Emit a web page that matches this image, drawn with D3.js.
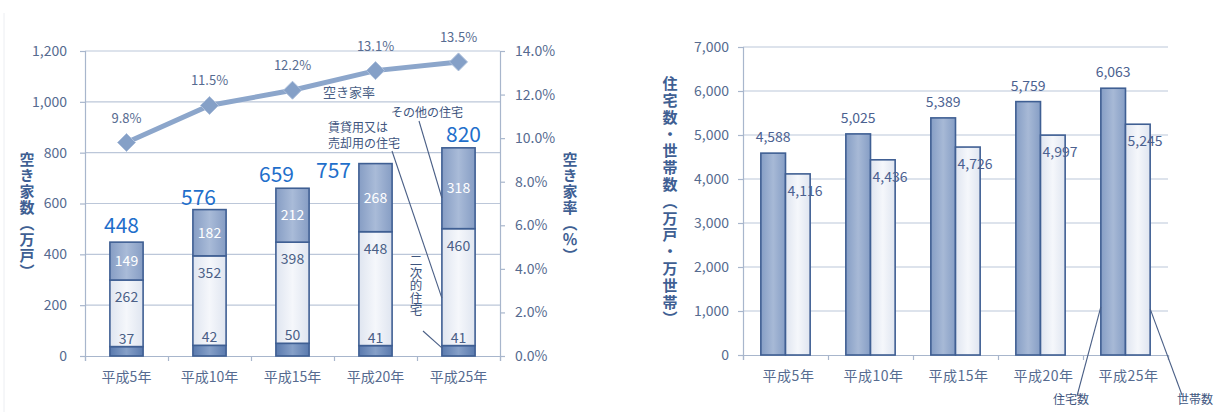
<!DOCTYPE html>
<html>
<head>
<meta charset="utf-8">
<script src="https://cdn.jsdelivr.net/npm/d3@7"></script>
<style>
  body { margin: 0; background: #fff; }
  text { font-family: "Noto Sans CJK JP", "Noto Sans", sans-serif; }
  .vt { writing-mode: vertical-rl; }
</style>
</head>
<body>
<svg id="chart" width="1221" height="412"></svg>
<script>
// data
var years = ["平成5年", "平成10年", "平成15年", "平成20年", "平成25年"];
var secondHomes = [37, 42, 50, 41, 41];        // 二次的住宅
var rentalSale = [262, 352, 398, 448, 460];    // 賃貸用又は売却用の住宅
var otherHomes = [149, 182, 212, 268, 318];    // その他の住宅
var totalVacant = [448, 576, 659, 757, 820];
var vacancyRate = [9.8, 11.5, 12.2, 13.1, 13.5];
var leftTicks = [0, 200, 400, 600, 800, 1000, 1200];
var rateTicks = [0, 2, 4, 6, 8, 10, 12, 14];

var houses = [4588, 5025, 5389, 5759, 6063];     // 住宅数
var households = [4116, 4436, 4726, 4997, 5245]; // 世帯数
var rightTicks = [0, 1000, 2000, 3000, 4000, 5000, 6000, 7000];

// label nudges for the totals (layout only)
var totalDx = [-5, -11, -16, -42, 5];
var totalDy = [-9, -5, -7, 14, -6];

var svg = d3.select("#chart");
var axisCol = "#a8b6cc", gridCol = "#bcc7d9", textCol = "#566b90", edgeCol = "#3f5f93";

// gradients
var defs = svg.append("defs");
function grad(id, edge, mid) {
  var g = defs.append("linearGradient").attr("id", id).attr("x1", "0").attr("x2", "1").attr("y1", "0").attr("y2", "0");
  g.append("stop").attr("offset", "0").attr("stop-color", edge);
  g.append("stop").attr("offset", "0.5").attr("stop-color", mid);
  g.append("stop").attr("offset", "1").attr("stop-color", edge);
}
grad("gDark", "#5a7aae", "#86a0c8");
grad("gMid", "#869dc4", "#a9bbd8");
grad("gLight", "#dfe5f0", "#f5f7fb");
grad("gHouse", "#869ec5", "#a7b9d6");

// faint panel edge
svg.append("line").attr("x1", 4).attr("x2", 4).attr("y1", 13).attr("y2", 412)
  .attr("stroke", "#eceef2").attr("stroke-width", 1);

// ---------- left chart ----------
var L = {left: 85, right: 500, top: 51, bottom: 356};
var lx = d3.scaleBand().domain(years).range([L.left, L.right]).paddingInner(0.6).paddingOuter(0.3);
var ly = d3.scaleLinear().domain([0, 1200]).range([L.bottom, L.top]);
var ry = d3.scaleLinear().domain([0, 14]).range([L.bottom, L.top]);
var lb = d3.scaleLinear().domain([0, years.length]).range([L.left, L.right]);

var gl = svg.append("g");

gl.selectAll(".lgrid").data(leftTicks.filter(function(d) { return d > 0; }))
  .enter().append("line")
  .attr("x1", L.left).attr("x2", L.right)
  .attr("y1", function(d) { return ly(d); }).attr("y2", function(d) { return ly(d); })
  .attr("stroke", gridCol).attr("stroke-width", 1.2);

var yAxisL = gl.append("g").attr("transform", "translate(" + L.left + ",0)")
  .call(d3.axisLeft(ly).tickValues(leftTicks).tickFormat(d3.format(",")).tickSize(5).tickPadding(13));
var yAxisR = gl.append("g").attr("transform", "translate(" + L.right + ",0)")
  .call(d3.axisRight(ry).tickValues(rateTicks).tickFormat(function(d) { return d.toFixed(1) + "%"; }).tickSize(5).tickPadding(10));
var xAxisL = gl.append("g").attr("transform", "translate(0," + L.bottom + ")")
  .call(d3.axisBottom(lb).ticks(years.length).tickFormat("").tickSize(5));

[yAxisL, yAxisR, xAxisL].forEach(function(a) {
  a.selectAll("path, line").attr("stroke", axisCol).attr("stroke-width", 1.2);
  a.selectAll("text").attr("fill", textCol).attr("font-size", 14);
});

gl.selectAll(".xlab").data(years).enter().append("text")
  .attr("x", function(d) { return lx(d) + lx.bandwidth() / 2; })
  .attr("y", 382).attr("text-anchor", "middle")
  .attr("fill", textCol).attr("font-size", 14).text(function(d) { return d; });

// stacked bars
var stackRows = years.map(function(y, i) {
  return {year: y, second: secondHomes[i], rental: rentalSale[i], other: otherHomes[i]};
});
var stacked = d3.stack().keys(["second", "rental", "other"])(stackRows);
var fills = {second: "url(#gDark)", rental: "url(#gLight)", other: "url(#gMid)"};

stacked.forEach(function(layer) {
  gl.selectAll(".seg-" + layer.key).data(layer).enter().append("rect")
    .attr("x", function(d) { return lx(d.data.year); })
    .attr("width", lx.bandwidth())
    .attr("y", function(d) { return ly(d[1]); })
    .attr("height", function(d) { return ly(d[0]) - ly(d[1]); })
    .attr("fill", fills[layer.key])
    .attr("stroke", edgeCol).attr("stroke-width", 1.6);
});

// segment labels
stacked.forEach(function(layer) {
  gl.selectAll(".lab-" + layer.key).data(layer).enter().append("text")
    .attr("x", function(d) { return lx(d.data.year) + lx.bandwidth() / 2; })
    .attr("y", function(d) {
      if (layer.key === "second") return ly(d[1]) - 3;
      if (layer.key === "rental") return ly(d[1]) + 22;
      return (ly(d[0]) + ly(d[1])) / 2 + 5;
    })
    .attr("text-anchor", "middle").attr("font-size", 14)
    .attr("fill", layer.key === "other" ? "#ffffff" : "#4a5f86")
    .text(function(d) { return d.data[layer.key]; });
});

// totals
gl.selectAll(".total").data(totalVacant).enter().append("text")
  .attr("x", function(d, i) { return lx(years[i]) + lx.bandwidth() / 2 + totalDx[i]; })
  .attr("y", function(d, i) { return ly(d) + totalDy[i]; })
  .attr("text-anchor", "middle").attr("font-size", 21)
  .attr("fill", "#1f6fcb").text(function(d) { return d; });

// vacancy rate line
var rateLine = d3.line()
  .x(function(d, i) { return lx(years[i]) + lx.bandwidth() / 2; })
  .y(function(d) { return ry(d); });
gl.append("path").datum(vacancyRate).attr("d", rateLine)
  .attr("fill", "none").attr("stroke", "#8ca6cb").attr("stroke-width", 5);

gl.selectAll(".mark").data(vacancyRate).enter().append("path")
  .attr("transform", function(d, i) { return "translate(" + (lx(years[i]) + lx.bandwidth() / 2) + "," + ry(d) + ")"; })
  .attr("d", "M0,-9L9,0L0,9L-9,0Z")
  .attr("fill", "#85a0c7").attr("stroke", "#adbfdb").attr("stroke-width", 1);

gl.selectAll(".ratelab").data(vacancyRate).enter().append("text")
  .attr("x", function(d, i) { return lx(years[i]) + lx.bandwidth() / 2; })
  .attr("y", function(d) { return ry(d) - 20; })
  .attr("text-anchor", "middle").attr("font-size", 13)
  .attr("fill", textCol).text(function(d) { return d.toFixed(1) + "%"; });

gl.append("text").attr("x", 323).attr("y", 97).attr("font-size", 13)
  .attr("fill", "#4a5f86").text("空き家率");

// annotations
var annCol = "#3e557e";
gl.append("text").attr("x", 391).attr("y", 117).attr("font-size", 12).attr("fill", annCol).text("その他の住宅");
gl.append("text").attr("x", 328).attr("y", 132).attr("font-size", 12).attr("fill", annCol).text("賃貸用又は");
gl.append("text").attr("x", 328).attr("y", 148).attr("font-size", 12).attr("fill", annCol).text("売却用の住宅");
gl.append("text").attr("class", "vt").attr("x", 416).attr("y", 254).attr("font-size", 12.5)
  .attr("fill", annCol).text("二次的住宅");

var lastX = lx(years[4]);
[[419, 121, lastX, ly(totalVacant[4] - otherHomes[4] / 2) + 10],
 [392, 151, lastX, ly(secondHomes[4] + rentalSale[4] / 2) + 11],
 [423, 331, lastX, ly(secondHomes[4] / 2) - 3]].forEach(function(s) {
  gl.append("line").attr("x1", s[0]).attr("y1", s[1]).attr("x2", s[2]).attr("y2", s[3])
    .attr("stroke", "#4a5f86").attr("stroke-width", 1.1);
});

// axis titles
gl.append("text").attr("class", "vt").attr("x", 27).attr("y", 152)
  .attr("font-size", 15).attr("font-weight", "bold").attr("letter-spacing", 1)
  .attr("fill", "#3f5f93").text("空き家数（万戸）");
gl.append("text").attr("class", "vt").attr("x", 570).attr("y", 152)
  .attr("font-size", 15).attr("font-weight", "bold").attr("letter-spacing", 1)
  .attr("fill", "#3f5f93").text("空き家率（％）");

// ---------- right chart ----------
var R = {left: 743, right: 1168, top: 47, bottom: 355};
var x0 = d3.scaleBand().domain(years).range([R.left, R.right]).paddingInner(0.42).paddingOuter(0.21);
var x1 = d3.scaleBand().domain(["houses", "households"]).range([0, x0.bandwidth()]);
var y2 = d3.scaleLinear().domain([0, 7000]).range([R.bottom, R.top]);
var xb2 = d3.scaleLinear().domain([0, years.length]).range([R.left, R.right]);

var gr = svg.append("g");

gr.selectAll(".rgrid").data(rightTicks.filter(function(d) { return d > 0; }))
  .enter().append("line")
  .attr("x1", R.left).attr("x2", R.right)
  .attr("y1", function(d) { return y2(d); }).attr("y2", function(d) { return y2(d); })
  .attr("stroke", gridCol).attr("stroke-width", 1.2);

var yAxis2 = gr.append("g").attr("transform", "translate(" + R.left + ",0)")
  .call(d3.axisLeft(y2).tickValues(rightTicks).tickFormat(d3.format(",")).tickSize(5).tickPadding(9));
var xAxis2 = gr.append("g").attr("transform", "translate(0," + R.bottom + ")")
  .call(d3.axisBottom(xb2).ticks(years.length).tickFormat("").tickSize(5));
[yAxis2, xAxis2].forEach(function(a) {
  a.selectAll("path, line").attr("stroke", axisCol).attr("stroke-width", 1.2);
  a.selectAll("text").attr("fill", textCol).attr("font-size", 14);
});

gr.selectAll(".xlab2").data(years).enter().append("text")
  .attr("x", function(d) { return x0(d) + x0.bandwidth() / 2 + 3; })
  .attr("y", 381).attr("text-anchor", "middle").attr("letter-spacing", 0.5)
  .attr("fill", textCol).attr("font-size", 14).text(function(d) { return d; });

var pairRows = years.map(function(y, i) { return {year: y, houses: houses[i], households: households[i]}; });

gr.selectAll(".hbar").data(pairRows).enter().append("rect")
  .attr("x", function(d) { return x0(d.year) + x1("houses"); })
  .attr("width", x1.bandwidth())
  .attr("y", function(d) { return y2(d.houses); })
  .attr("height", function(d) { return R.bottom - y2(d.houses); })
  .attr("fill", "url(#gHouse)").attr("stroke", edgeCol).attr("stroke-width", 1.6);

gr.selectAll(".hhbar").data(pairRows).enter().append("rect")
  .attr("x", function(d) { return x0(d.year) + x1("households"); })
  .attr("width", x1.bandwidth())
  .attr("y", function(d) { return y2(d.households); })
  .attr("height", function(d) { return R.bottom - y2(d.households); })
  .attr("fill", "url(#gLight)").attr("stroke", edgeCol).attr("stroke-width", 1.6);

gr.selectAll(".hlab").data(pairRows).enter().append("text")
  .attr("x", function(d) { return x0(d.year) + x1("houses") + x1.bandwidth() / 2; })
  .attr("y", function(d) { return y2(d.houses) - 11; })
  .attr("text-anchor", "middle").attr("font-size", 14)
  .attr("fill", "#4b6190").text(function(d) { return d3.format(",")(d.houses); });

gr.selectAll(".hhlab").data(pairRows).enter().append("text")
  .attr("x", function(d) { return x0(d.year) + x1("households") + 2; })
  .attr("y", function(d) { return y2(d.households) + 22; })
  .attr("font-size", 14)
  .attr("fill", "#4b6190").text(function(d) { return d3.format(",")(d.households); });

gr.append("text").attr("class", "vt").attr("x", 670).attr("y", 76)
  .attr("font-size", 15).attr("font-weight", "bold").attr("letter-spacing", 1.8)
  .attr("fill", "#3f5f93").text("住宅数・世帯数（万戸・万世帯）");

// legend callouts
var lastG = x0(years[4]);
gr.append("line").attr("x1", 1077).attr("y1", 396).attr("x2", lastG + x1("houses")).attr("y2", y2(houses[4] * 0.18))
  .attr("stroke", "#4a5f86").attr("stroke-width", 1.1);
gr.append("line").attr("x1", lastG + x1("households") + x1.bandwidth()).attr("y1", y2(households[4] * 0.2))
  .attr("x2", 1182).attr("y2", 395).attr("stroke", "#4a5f86").attr("stroke-width", 1.1);
gr.append("text").attr("x", 1071).attr("y", 404).attr("text-anchor", "middle").attr("font-size", 12)
  .attr("fill", annCol).text("住宅数");
gr.append("text").attr("x", 1195).attr("y", 404).attr("text-anchor", "middle").attr("font-size", 12)
  .attr("fill", annCol).text("世帯数");
</script>
</body>
</html>
